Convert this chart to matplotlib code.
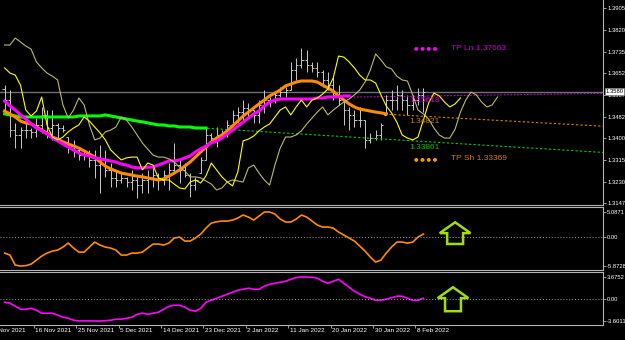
import numpy as np
import matplotlib.pyplot as plt
import matplotlib.transforms as mtransforms
from matplotlib.patches import FancyArrow

plt.rcParams['font.family'] = ['Liberation Sans', 'DejaVu Sans']

# daily price bars (x = bar number)
highs = [1.3605, 1.3586, 1.3458, 1.3442, 1.3469, 1.3438, 1.3477, 1.3520, 1.3508, 1.3508,
         1.3458, 1.3450, 1.3403, 1.3392, 1.3364, 1.3353, 1.3353, 1.3353, 1.3372, 1.3353,
         1.3302, 1.3275, 1.3263, 1.3248, 1.3275, 1.3248, 1.3263, 1.3275, 1.3286, 1.3263,
         1.3275, 1.3302, 1.3380, 1.3314, 1.3302, 1.3263, 1.3248, 1.3325, 1.3442, 1.3419,
         1.3442, 1.3430, 1.3469, 1.3508, 1.3520, 1.3547, 1.3535, 1.3508, 1.3547, 1.3586,
         1.3559, 1.3574, 1.3598, 1.3598, 1.3695, 1.3711, 1.3749, 1.3742, 1.3695, 1.3695,
         1.3664, 1.3656, 1.3637, 1.3605, 1.3547, 1.3520, 1.3508, 1.3520, 1.3469, 1.3419,
         1.3430, 1.3458, 1.3567, 1.3586, 1.3605, 1.3586, 1.3567, 1.3567, 1.3594, 1.3594]
lows = [1.3508, 1.3403, 1.3360, 1.3360, 1.3399, 1.3399, 1.3403, 1.3419, 1.3399, 1.3392,
        1.3392, 1.3423, 1.3341, 1.3325, 1.3314, 1.3314, 1.3286, 1.3244, 1.3185, 1.3248,
        1.3209, 1.3209, 1.3224, 1.3209, 1.3197, 1.3166, 1.3185, 1.3185, 1.3209, 1.3197,
        1.3216, 1.3197, 1.3263, 1.3224, 1.3248, 1.3170, 1.3197, 1.3263, 1.3314, 1.3380,
        1.3364, 1.3403, 1.3403, 1.3442, 1.3458, 1.3469, 1.3481, 1.3458, 1.3458, 1.3497,
        1.3520, 1.3535, 1.3559, 1.3559, 1.3586, 1.3625, 1.3672, 1.3656, 1.3656, 1.3637,
        1.3598, 1.3586, 1.3547, 1.3528, 1.3450, 1.3430, 1.3442, 1.3442, 1.3360, 1.3380,
        1.3392, 1.3392, 1.3489, 1.3508, 1.3508, 1.3508, 1.3489, 1.3508, 1.3528, 1.3500]
closes = [1.3547, 1.3430, 1.3411, 1.3430, 1.3430, 1.3423, 1.3450, 1.3489, 1.3438, 1.3450,
          1.3438, 1.3430, 1.3372, 1.3353, 1.3333, 1.3333, 1.3314, 1.3294, 1.3314, 1.3275,
          1.3244, 1.3236, 1.3244, 1.3228, 1.3236, 1.3216, 1.3236, 1.3244, 1.3255, 1.3236,
          1.3255, 1.3275, 1.3294, 1.3275, 1.3255, 1.3216, 1.3236, 1.3314, 1.3411, 1.3399,
          1.3411, 1.3419, 1.3450, 1.3489, 1.3500, 1.3516, 1.3508, 1.3489, 1.3528, 1.3547,
          1.3547, 1.3567, 1.3578, 1.3586, 1.3664, 1.3683, 1.3703, 1.3683, 1.3672, 1.3656,
          1.3625, 1.3605, 1.3567, 1.3547, 1.3508, 1.3489, 1.3469, 1.3469, 1.3392, 1.3399,
          1.3411, 1.3450, 1.3547, 1.3547, 1.3567, 1.3547, 1.3528, 1.3547, 1.3567, 1.3580]
first_open = 1.3590

# moving averages and lines on the price chart
ma_magenta = [1.3543, 1.3524, 1.3508, 1.3489, 1.3473, 1.3454, 1.3438, 1.3427, 1.3415, 1.3399,
              1.3388, 1.3376, 1.3364, 1.3353, 1.3341, 1.3333, 1.3329, 1.3322, 1.3318, 1.3314,
              1.3310, 1.3306, 1.3298, 1.3294, 1.3286, 1.3283, 1.3283, 1.3286, 1.3286, 1.3294,
              1.3302, 1.3310, 1.3310, 1.3314, 1.3322, 1.3329, 1.3345, 1.3357, 1.3368, 1.3380,
              1.3388, 1.3399, 1.3415, 1.3430, 1.3446, 1.3461, 1.3477, 1.3493, 1.3504, 1.3524,
              1.3539, 1.3547, 1.3551, 1.3551, 1.3551, 1.3551, 1.3551, 1.3551, 1.3551, 1.3555,
              1.3555, 1.3559, 1.3559, 1.3559, 1.3563, 1.3563]
ma_orange = [1.3504, 1.3493, 1.3481, 1.3465, 1.3458, 1.3454, 1.3442, 1.3430, 1.3419, 1.3403,
             1.3395, 1.3384, 1.3376, 1.3368, 1.3360, 1.3349, 1.3337, 1.3325, 1.3306, 1.3290,
             1.3279, 1.3271, 1.3263, 1.3259, 1.3255, 1.3251, 1.3248, 1.3244, 1.3240, 1.3236,
             1.3240, 1.3251, 1.3263, 1.3275, 1.3290, 1.3306, 1.3325, 1.3345, 1.3364, 1.3384,
             1.3399, 1.3411, 1.3427, 1.3446, 1.3465, 1.3485, 1.3500, 1.3516, 1.3532, 1.3547,
             1.3563, 1.3574, 1.3586, 1.3602, 1.3609, 1.3617, 1.3621, 1.3621, 1.3621, 1.3617,
             1.3605, 1.3594, 1.3582, 1.3563, 1.3547, 1.3532, 1.3520, 1.3512, 1.3508, 1.3504,
             1.3500, 1.3497, 1.3493]
ma_green = [1.3493, 1.3489, 1.3485, 1.3481, 1.3481, 1.3481, 1.3481, 1.3481, 1.3481, 1.3481,
            1.3481, 1.3481, 1.3481, 1.3481, 1.3485, 1.3485, 1.3485, 1.3485, 1.3485, 1.3489,
            1.3485, 1.3481, 1.3477, 1.3473, 1.3469, 1.3465, 1.3462, 1.3458, 1.3454, 1.3450,
            1.3450, 1.3446, 1.3446, 1.3442, 1.3442, 1.3442, 1.3438, 1.3438, 1.3438]
line_yellow = [1.3672, 1.3652, 1.3644, 1.3605, 1.3508, 1.3485, 1.3504, 1.3559, 1.3450, 1.3403,
               1.3392, 1.3403, 1.3423, 1.3438, 1.3450, 1.3481, 1.3465, 1.3442, 1.3419, 1.3392,
               1.3353, 1.3333, 1.3314, 1.3322, 1.3325, 1.3325, 1.3275, 1.3302, 1.3294, 1.3244,
               1.3236, 1.3236, 1.3220, 1.3205, 1.3201, 1.3228, 1.3236, 1.3224, 1.3252, 1.3302,
               1.3275, 1.3248, 1.3228, 1.3213, 1.3267, 1.3388, 1.3395, 1.3407, 1.3427, 1.3442,
               1.3454, 1.3481, 1.3508, 1.3520, 1.3489, 1.3520, 1.3547, 1.3520, 1.3547, 1.3555,
               1.3570, 1.3590, 1.3633, 1.3718, 1.3714, 1.3695, 1.3672, 1.3644, 1.3625, 1.3625,
               1.3613, 1.3567, 1.3524, 1.3497, 1.3461, 1.3411, 1.3399, 1.3392, 1.3403, 1.3469,
               1.3535, 1.3574, 1.3563, 1.3539, 1.3520, 1.3532, 1.3555]
line_khaki = [1.3761, 1.3761, 1.3788, 1.3773, 1.3757, 1.3745, 1.3695, 1.3672, 1.3652, 1.3640,
              1.3625, 1.3528, 1.3477, 1.3508, 1.3555, 1.3528, 1.3450, 1.3392, 1.3399, 1.3423,
              1.3430, 1.3442, 1.3481, 1.3469, 1.3442, 1.3411, 1.3380, 1.3356, 1.3333, 1.3325,
              1.3325, 1.3318, 1.3306, 1.3286, 1.3271, 1.3248, 1.3248, 1.3244, 1.3232, 1.3220,
              1.3197, 1.3205, 1.3228, 1.3236, 1.3232, 1.3228, 1.3283, 1.3294, 1.3263, 1.3236,
              1.3216, 1.3294, 1.3360, 1.3403, 1.3403, 1.3411, 1.3427, 1.3454, 1.3477, 1.3500,
              1.3520, 1.3489, 1.3508, 1.3524, 1.3539, 1.3551, 1.3567, 1.3586, 1.3617, 1.3664,
              1.3726, 1.3703, 1.3676, 1.3668, 1.3640, 1.3625, 1.3621, 1.3567, 1.3508, 1.3493,
              1.3473, 1.3438, 1.3411, 1.3399, 1.3399, 1.3434, 1.3500, 1.3547, 1.3578, 1.3567,
              1.3539, 1.3520, 1.3528, 1.3559]

# projected levels: start bar and prices at start / right edge
lvl_magenta = ([64.6, 113.0], [1.3558, 1.3573])
lvl_orange = ([71.8, 113.0], [1.3492, 1.3445])
lvl_green = ([37.4, 113.0], [1.3438, 1.3343])
current_price = 1.3580

# oscillators
osc_orange = [-3.25, -3.65, -5.68, -5.87, -5.80, -5.48, -4.67, -3.86, -3.25, -2.84,
              -2.64, -2.03, -1.22, -2.23, -3.05, -3.05, -2.03, -1.02, -1.62, -2.03,
              -2.23, -2.64, -3.65, -3.65, -3.25, -3.25, -3.05, -2.23, -1.42, -1.42,
              -1.62, -1.22, -0.20, 0.00, -0.81, -0.81, -0.20, 0.60, 1.83, 2.84,
              3.10, 3.25, 3.25, 3.45, 3.86, 4.47, 4.06, 3.45, 4.26, 5.08,
              5.09, 4.67, 3.65, 3.05, 3.05, 3.65, 4.47, 4.06, 3.25, 2.44,
              2.03, 2.03, 1.83, 1.02, 0.41, -0.20, -0.81, -1.83, -2.84, -4.06,
              -5.08, -4.67, -3.25, -2.03, -1.02, -1.02, -1.22, -1.02, 0.00, 0.61]
osc_magenta = [-0.50, -0.66, -1.16, -1.65, -1.65, -1.49, -1.82, -2.31, -2.31, -2.31,
               -2.64, -2.97, -3.14, -3.47, -3.58, -3.58, -3.58, -3.60, -3.60, -3.55,
               -3.47, -3.30, -3.30, -3.14, -2.97, -2.48, -2.31, -2.48, -2.31, -2.15,
               -1.65, -1.16, -0.99, -0.99, -1.32, -1.82, -1.98, -1.49, -0.50, -0.17,
               0.17, 0.50, 0.83, 1.16, 1.49, 1.65, 1.82, 1.65, 1.65, 2.15,
               2.48, 2.64, 2.81, 2.97, 3.30, 3.60, 3.68, 3.66, 3.63, 3.47,
               2.97, 2.64, 2.97, 3.30, 2.64, 1.98, 1.32, 0.83, 0.41, 0.17,
               -0.17, -0.17, 0.00, 0.25, 0.50, 0.50, 0.17, -0.17, -0.17, 0.17]

price_ticks = [1.3905, 1.3820, 1.3735, 1.3652, 1.3567, 1.3482, 1.3400, 1.3315, 1.3230, 1.3147]
osc1_ticks = [5.0871, 0.0, -5.8728]
osc1_labels = ['5.0871', '0.00', '-5.8728']
osc2_ticks = [3.6752, 0.0, -3.6011]
osc2_labels = ['3.6752', '0.00', '-3.6011']
date_ticks = [-2.5, 5.5, 13.5, 21.5, 29.5, 37.5, 45.5, 53.5, 61.5, 69.5, 77.5]
date_labels = ['7 Nov 2021', '16 Nov 2021', '25 Nov 2021', '5 Dec 2021', '14 Dec 2021',
               '23 Dec 2021', '2 Jan 2022', '11 Jan 2022', '20 Jan 2022', '30 Jan 2022',
               '8 Feb 2022']

BG = 'black'
AXC = '#b4b4b4'
XLIM = (-0.87, 112.9)
LBL = 4.2

fig = plt.figure(figsize=(6.25, 3.4), dpi=100, facecolor=BG)
ax = fig.add_axes([0, 135 / 340, 603 / 625, 205 / 340])
ax1 = fig.add_axes([0, 70 / 340, 603 / 625, 63 / 340])
ax2 = fig.add_axes([0, 15 / 340, 603 / 625, 53 / 340])

for a in (ax, ax1, ax2):
    a.set_facecolor(BG)
    a.set_xlim(*XLIM)
    a.spines['left'].set_visible(False)
    for s in ('top', 'bottom', 'right'):
        a.spines[s].set_color(AXC)
        a.spines[s].set_linewidth(0.8)
    a.yaxis.tick_right()
    a.tick_params(axis='y', colors=AXC, labelcolor='white', labelsize=LBL,
                  length=2, width=0.6, pad=1)
    a.set_xticks([])
ax.spines['top'].set_visible(False)

# ---- price chart ----
x = np.arange(len(highs))
opens = np.clip([first_open] + closes[:-1], lows, highs)
ax.vlines(x, lows, highs, color='#c8c8c8', lw=0.7, zorder=2)
ax.hlines(opens, x - 0.4, x, color='#c8c8c8', lw=0.7, zorder=2)
ax.hlines(closes, x, x + 0.4, color='#c8c8c8', lw=0.7, zorder=2)

ax.axhline(current_price, color='#6c7078', lw=1.0, zorder=1)

ax.plot(*lvl_green, color='#00d000', lw=0.8, ls=(0, (2, 2)), zorder=3)
ax.plot(*lvl_orange, color='#e08000', lw=0.8, ls=(0, (2, 2)), zorder=3)
ax.plot(*lvl_magenta, color='#d000d0', lw=0.8, ls=(0, (1.5, 1.5)), zorder=3)

ax.plot(np.arange(len(ma_green)), ma_green, color='#00ff00', lw=2.2, zorder=4)
ax.plot(np.arange(len(ma_orange)), ma_orange, color='#ff8c00', lw=2.2, zorder=5)
ax.plot(np.arange(len(ma_magenta)), ma_magenta, color='#ff00ff', lw=2.2, zorder=6)
ax.plot(np.arange(len(line_khaki)), line_khaki, color='#bdb76b', lw=0.8, zorder=7)
ax.plot(np.arange(len(line_yellow)), line_yellow, color='#ffff00', lw=0.8, zorder=8)

ax.set_ylim(1.31386, 1.39361)
ax.set_yticks(price_ticks)
ax.set_yticklabels([f'{v:.4f}' for v in price_ticks])

# level labels
ax.text(76.3, 1.3544, '1.35618', color='#d000d0', fontsize=6, va='center', zorder=9)
ax.text(76.3, 1.3462, '1.34821', color='#c08000', fontsize=6, va='center', zorder=9)
ax.text(76.3, 1.3364, '1.33861', color='#00c000', fontsize=6, va='center', zorder=9)
ax.text(77.2, 1.3749, '● ● ● ●', color='#ff00ff', fontsize=3.8, va='center',
        family='DejaVu Sans', zorder=9)
ax.text(84.2, 1.3749, 'TP Ln 1.37663', color='#c800c8', fontsize=6, va='center', zorder=9)
ax.text(77.2, 1.3318, '● ● ● ●', color='#ff9900', fontsize=3.8, va='center',
        family='DejaVu Sans', zorder=9)
ax.text(84.2, 1.3318, 'TP Sh 1.33369', color='#d08000', fontsize=6, va='center', zorder=9)

# current price box on the axis
trans = mtransforms.blended_transform_factory(ax.transAxes, ax.transData)
ax.text(1.004, current_price, f'{current_price:.4f}', transform=trans, color='black',
        fontsize=LBL, va='center', ha='left', zorder=10, clip_on=False,
        bbox=dict(facecolor='white', edgecolor='#808080', pad=0.6, lw=0.5))

# ---- oscillator 1 ----
xo = np.arange(len(osc_orange))
ax1.plot(xo, osc_orange, color='#ff8c00', lw=1.2)
ax1.axhline(0, color='#a0a0a0', lw=0.7, ls=(0, (1, 2)))
ax1.set_ylim(-6.68, 6.10)
ax1.set_yticks(osc1_ticks)
ax1.set_yticklabels(osc1_labels)
ax1.add_patch(FancyArrow(85.0, -1.4, 0, 4.4, width=3.0, head_width=5.8,
                         head_length=2.2, length_includes_head=True, fill=False,
                         edgecolor='#a0dc10', lw=1.8, zorder=5))

# ---- oscillator 2 ----
xm = np.arange(len(osc_magenta))
ax2.plot(xm, osc_magenta, color='#ff00ff', lw=1.2)
ax2.axhline(0, color='#a0a0a0', lw=0.7, ls=(0, (1, 2)))
ax2.set_ylim(-4.26, 4.50)
ax2.set_yticks(osc2_ticks)
ax2.set_yticklabels(osc2_labels)
ax2.add_patch(FancyArrow(84.6, -1.98, 0, 3.96, width=3.0, head_width=5.8,
                         head_length=1.8, length_includes_head=True, fill=False,
                         edgecolor='#a0dc10', lw=1.8, zorder=5))

# date axis
ax2.set_xticks([t for t in date_ticks if t > XLIM[0]])
ax2.tick_params(axis='x', colors=AXC, length=2, width=0.6, labelbottom=False)
dtrans = mtransforms.blended_transform_factory(ax2.transData, ax2.transAxes)
for t, lab in zip(date_ticks, date_labels):
    ax2.text(t + 0.3, -0.095, lab, transform=dtrans, color='white', fontsize=4.6,
             va='center', ha='left', clip_on=False)

fig.savefig('out.png', dpi=100, facecolor=BG)
